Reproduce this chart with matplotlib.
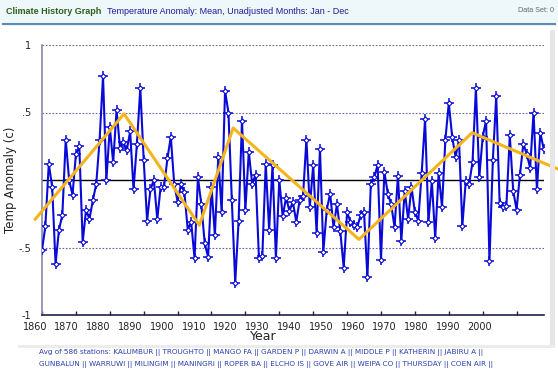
import numpy as np
import matplotlib
matplotlib.use("Agg")
import matplotlib.pyplot as plt
from matplotlib.patches import Rectangle
from matplotlib.lines import Line2D

# Annual mean temperature anomaly (c), one value per year 1860-2008
years = np.arange(1860, 2009)
anomaly = [
    -0.52, -0.34, 0.12, -0.05, -0.62, -0.37, -0.26, 0.30, 0.00, -0.11,   # 1860s
    0.19, 0.25, -0.46, -0.22, -0.29, -0.15, -0.03, 0.30, 0.77, 0.00,     # 1870s
    0.39, 0.13, 0.52, 0.24, 0.28, 0.22, 0.36, -0.07, 0.27, 0.68,         # 1880s
    0.15, -0.30, -0.07, 0.00, -0.29, -0.05, -0.05, 0.16, 0.32, -0.03,    # 1890s
    -0.16, -0.03, -0.09, -0.37, -0.31, -0.58, 0.02, -0.18, -0.47, -0.57, # 1900s
    -0.05, -0.41, 0.17, -0.24, 0.66, 0.50, -0.15, -0.76, -0.30, 0.44,    # 1910s
    -0.22, 0.21, -0.03, 0.04, -0.58, -0.56, 0.12, -0.37, 0.11, -0.58,    # 1920s
    0.00, -0.27, -0.13, -0.23, -0.16, -0.31, -0.15, -0.12, 0.30, -0.20,  # 1930s
    0.11, -0.39, 0.23, -0.53, -0.22, -0.10, -0.35, -0.18, -0.38, -0.65,  # 1940s
    -0.24, -0.31, -0.33, -0.35, -0.26, -0.24, -0.72, -0.03, 0.02, 0.11,  # 1950s
    -0.59, 0.06, -0.10, -0.18, -0.35, 0.03, -0.45, -0.08, -0.29, -0.05,  # 1960s
    -0.24, -0.30, 0.05, 0.45, -0.31, -0.01, -0.43, 0.05, -0.20, 0.30,    # 1970s
    0.57, 0.32, 0.17, 0.30, -0.34, -0.01, -0.03, 0.13, 0.68, 0.02,       # 1980s
    0.32, 0.44, -0.60, 0.15, 0.62, -0.17, -0.20, -0.19, 0.33, -0.08,     # 1990s
    -0.22, 0.04, 0.27, 0.19, 0.09, 0.50, -0.07, 0.35, 0.23,              # 2000s
]

# Piecewise trend line (breakpoints)
trend_years = [1858, 1884.2, 1906.4, 1916.4, 1953.5, 1986.9, 2012.3]
trend_vals = [-0.29, 0.49, -0.335, 0.385, -0.44, 0.35, 0.08]

decades = np.arange(1860, 2001, 10)
decade_labels = [str(d) for d in decades]
# the labels sit slightly off the tick marks in the original graph
label_pos = np.linspace(1857.9, 1989.2, 15)

stations_1 = ("Avg of 586 stations: KALUMBUR || TROUGHTO || MANGO FA || GARDEN P || "
              "DARWIN A || MIDDLE P || KATHERIN || JABIRU A ||")
stations_2 = ("GUNBALUN || WARRUWI || MILINGIM || MANINGRI || ROPER BA || ELCHO IS || "
              "GOVE AIR || WEIPA CO || THURSDAY || COEN AIR ||")

W, H = 558, 378
fig = plt.figure(figsize=(W / 100, H / 100), dpi=100)
fig.patch.set_facecolor("white")

# header band
fig.patches.append(Rectangle((0, 1 - 22 / H), 1, 22 / H, transform=fig.transFigure,
                             facecolor="#eef8fb", edgecolor="none", zorder=0))
fig.lines.append(Line2D([0.005, 0.995], [1 - 23.5 / H] * 2, transform=fig.transFigure,
                        color="#5b8db5", lw=1.6))
fig.text(6 / W, 1 - 11 / H, "Climate History Graph", color="#2e5e1e", fontsize=6.5,
         fontweight="bold", va="center", family="Liberation Sans")
fig.text(107 / W, 1 - 11 / H, "Temperature Anomaly: Mean, Unadjusted Months: Jan - Dec",
         color="#1c1c96", fontsize=6.5, va="center", family="Liberation Sans")
fig.text(1 - 4 / W, 1 - 11 / H, "Data Set: 0", color="#666666", fontsize=5.2,
         va="center", ha="right", family="Liberation Sans")

# panel shadow
fig.patches.append(Rectangle((550 / W, 1 - 345 / H), 5 / W, 315 / H, transform=fig.transFigure,
                             facecolor="#e6e6e6", edgecolor="none", zorder=0))
fig.patches.append(Rectangle((18 / W, 1 - 348 / H), 537 / W, 3 / H, transform=fig.transFigure,
                             facecolor="#ececec", edgecolor="none", zorder=0))

ax = fig.add_axes([42 / W, 1 - 315 / H, (543.7 - 42) / W, 270 / H])
ax.set_facecolor("none")
ax.set_xlim(1860, 2008)
ax.set_ylim(-1, 1)

# grid lines
for v in (0.5, -0.5, 1):
    ax.axhline(v, color="#6a6a9a", lw=0.8, ls=(0, (1.5, 1.5)), zorder=1)
ax.axhline(0, color="black", lw=1.0, zorder=1)

ax.plot(years, anomaly, color="#0a0ad8", lw=1.5, zorder=3)
ax.plot(years, anomaly, ls="none", marker="+", ms=7, mew=1.1, color="#0a0ad8", zorder=4)
ax.plot(years, anomaly, ls="none", marker="D", ms=2.6, mew=0.8, mfc="white",
        mec="#0a0ad8", zorder=5)
ax.plot(trend_years, trend_vals, color="#f4b41c", lw=2.2, zorder=6, clip_on=False)

for s in ("top", "right"):
    ax.spines[s].set_visible(False)
ax.spines["left"].set_color("#8a86aa")
ax.spines["left"].set_linewidth(1.2)
ax.spines["bottom"].set_color("#20204a")
ax.spines["bottom"].set_linewidth(1.2)

ax.set_xticks(decades, [""] * len(decades))
ax.tick_params(axis="x", which="major", direction="in", length=3, color="#20204a", width=1)
xlab_tf = ax.get_xaxis_transform()
for pos, lab in zip(label_pos, decade_labels):
    ax.text(pos, -12 / 270, lab, transform=xlab_tf, ha="center", va="center",
            fontsize=7, color="#222222", clip_on=False)

ax.set_yticks([1, 0.5, -0.5, -1], ["1", ".5", "-.5", "-1"])
ax.tick_params(axis="y", length=0, pad=8, labelsize=7, labelcolor="#222222")

ax.set_xlabel("Year", fontsize=9, color="#222222")
ax.xaxis.set_label_coords((263 - 42) / 501.7, -22 / 270)
ax.xaxis.label.set_va("center")
ax.set_ylabel("Temp Anomaly (c)", fontsize=8.5, color="#222222")
ax.yaxis.set_label_coords(-31 / 501.7, 0.5)
ax.yaxis.label.set_va("center")

fig.text(39 / W, 1 - 353 / H, stations_1, color="#2a3fb0", fontsize=5.2, va="center")
fig.text(39 / W, 1 - 364 / H, stations_2, color="#2a3fb0", fontsize=5.2, va="center")

fig.savefig("out.png", dpi=100)
